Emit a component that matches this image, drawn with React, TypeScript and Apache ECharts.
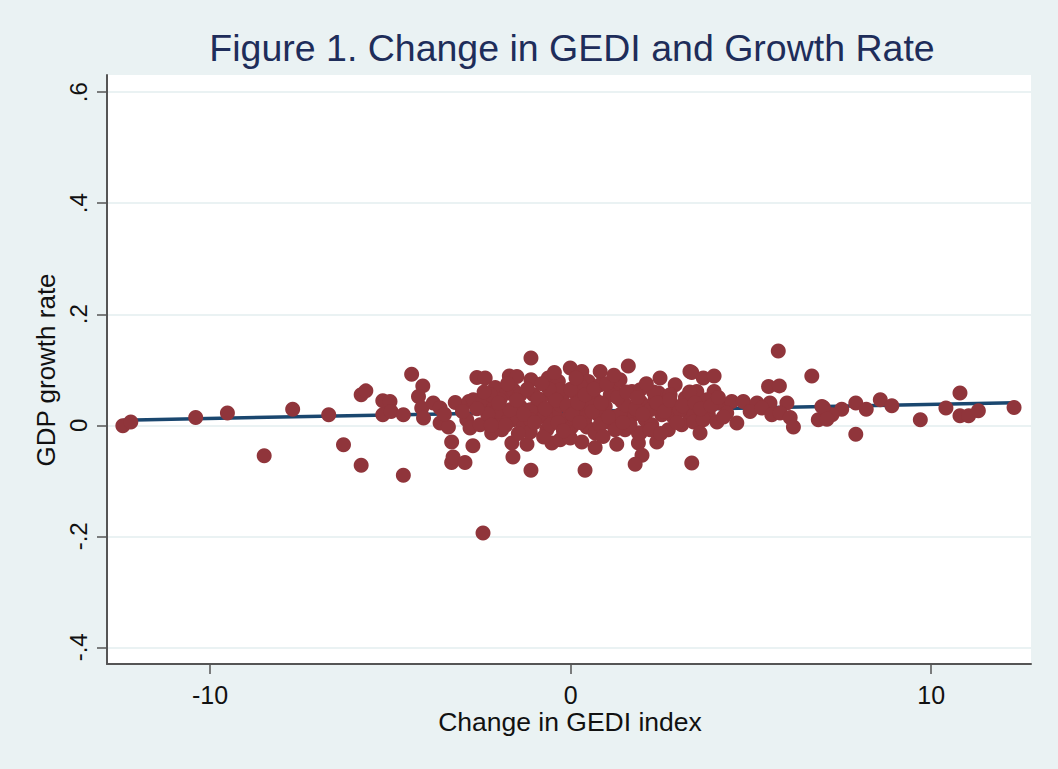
import React, { useEffect, useRef } from "react";
import * as echarts from "echarts";

// Change in GEDI index (x) for each country-period observation
const gediChange: number[] = [
  -12.42, -12.2, -10.4, -9.52, -8.5, -7.71, -6.71, -6.3, -5.81, -5.81,
  -5.68, -5.21, -5.01, -5.21, -4.98, -4.64, -4.64, -4.41, -4.1, -4.22,
  -4.13, -4.08, -3.81, -3.62, -3.62, -3.39, -3.3, -3.3, -3.26, -2.93,
  -2.71, -3.2, -2.88, -2.79, -2.51, -2.82, -2.7, -2.43, -2.6, -2.37,
  -2.09, -2.19, -1.91, -1.63, -1.6, -1.21, -1.1, -1.1, -1.1, -1.7,
  -1.49, -1.77, -1.59, -2.14, -1.96, -1.4, -1.59, -1.31, -1.03, -0.94,
  -0.85, -0.62, -0.57, -0.48, -0.66, -0.52, -0.75, -1.87, -2.05, -2.43,
  -0.01, 0.31, 0.82, 1.6, 2.48, 3.31, 2.9, -0.34, 0.49, 1.19,
  1.7, 2.44, -0.24, 0.12, 0.68, 0.96, 1.42, 1.93, 2.16, 2.62,
  2.9, 3.18, -0.43, -0.06, 0.31, 0.77, 1.23, 1.74, 2.07, 2.53,
  2.85, 3.27, -0.24, 0.03, 0.45, 0.96, 1.51, 1.93, 2.25, 2.71,
  3.08, -0.29, 0.31, 0.68, 1.28, 1.88, 2.39, 1.98, 0.4, 1.79,
  3.36, 0.68, 1.88, 5.76, 6.69, 3.36, 3.68, 3.98, 5.49, 5.79,
  3.5, 3.98, 3.78, 4.15, 4.47, 4.79, 5.17, 5.53, 6.0, 4.98,
  5.3, 5.58, 5.81, 6.09, 6.18, 6.97, 6.87, 3.41, 3.82, 4.33,
  4.61, 3.41, 3.68, 4.06, 3.59, 4.24, 8.59, 8.91, 9.7, 10.41,
  10.8, 10.8, 11.04, 11.31, 12.3, 7.91, 7.91, 8.2, 7.52, 7.25,
  7.01, 7.11,
  -1.4, -1.12, -0.29, 0.54, 1.1, 1.37, 2.21, -0.29, 0.54, -0.85,
  -1.12, -0.71, -0.15, 0.82, 1.23, 1.51, 2.34, 2.76, 3.04, -1.96,
  -2.23, -1.68, 0.12, 0.4, 1.65, 2.21, -1.12, -0.01, -0.57, 0.82,
  1.37, 1.93, 0.26,
  -2.3, -2.0, -1.8, -1.5, -1.3, -1.2, -1.0, -0.9, -0.7, -0.6,
  -0.4, -0.35, -0.1, 0.0, 0.05, 0.2, 0.25, 0.4, 0.6, 0.65,
  0.85, 1.0, 1.05, 1.3, 1.45, 1.55, 1.8, 1.85, 2.0, 2.3,
  2.4, 2.6, 2.75, 2.95, 3.1, 3.3, 3.45, 3.6, 3.9, 4.1,
  -2.6, -2.4, -3.0, -3.5, -2.2, -1.45, -0.2, 0.9, 2.5, -1.75,
  -0.8, 0.15, 2.1, 1.2, -0.45,
];

// GDP growth rate (y) for the same observations
const gdpGrowth: number[] = [
  -0.001, 0.006, 0.014, 0.022, -0.055, 0.029, 0.019, -0.035, -0.072, 0.055,
  0.062, 0.044, 0.043, 0.019, 0.025, 0.019, -0.09, 0.092, 0.071, 0.052,
  0.031, 0.013, 0.04, 0.031, 0.004, -0.003, -0.03, -0.067, -0.057, -0.067,
  -0.037, 0.041, 0.01, -0.005, 0.001, 0.043, 0.046, 0.043, 0.086, 0.085,
  0.068, -0.014, -0.008, -0.032, -0.057, -0.034, -0.081, 0.121, 0.082, 0.089,
  0.088, 0.058, 0.064, 0.031, 0.015, 0.034, 0.01, -0.003, 0.055, 0.034,
  0.015, 0.085, 0.055, 0.034, -0.008, -0.032, -0.021, 0.01, 0.025, -0.194,
  0.103, 0.097, 0.097, 0.107, 0.085, 0.097, 0.073, 0.079, 0.079, 0.067,
  0.061, 0.058, 0.049, 0.058, 0.046, 0.034, 0.043, 0.043, 0.034, 0.04,
  0.034, 0.049, 0.022, 0.015, 0.025, 0.019, 0.015, 0.019, 0.01, 0.019,
  0.015, 0.022, 0.001, -0.003, -0.003, 0.006, -0.008, -0.014, 0.001, -0.008,
  0.001, -0.026, -0.03, -0.04, -0.034, -0.032, -0.03, -0.054, -0.081, -0.07,
  -0.068, -0.014, -0.014, 0.134, 0.089, 0.095, 0.085, 0.089, 0.07, 0.071,
  0.061, 0.061, 0.046, 0.04, 0.043, 0.043, 0.04, 0.04, 0.04, 0.025,
  0.031, 0.019, 0.022, 0.014, -0.003, 0.034, 0.01, 0.025, 0.019, 0.022,
  0.004, 0.006, 0.01, 0.006, -0.014, 0.015, 0.046, 0.035, 0.01, 0.031,
  0.058, 0.017, 0.017, 0.026, 0.032, -0.016, 0.04, 0.029, 0.029, 0.019,
  0.032, 0.011,
  0.055, 0.028, 0.037, 0.037, 0.055, 0.019, 0.028, 0.064, 0.06, 0.046,
  0.01, 0.019, -0.008, 0.001, -0.008, 0.037, 0.046, 0.055, 0.028, 0.046,
  0.055, 0.028, 0.037, 0.013, 0.001, -0.008, -0.012, -0.023, 0.001, 0.073,
  0.082, 0.064, 0.073,
  0.02, 0.04, 0.0, 0.045, 0.02, 0.065, 0.005, 0.048, 0.03, 0.065,
  0.045, 0.005, 0.035, 0.065, 0.02, 0.04, 0.005, 0.055, 0.025, 0.065,
  0.04, 0.075, 0.015, 0.05, 0.005, 0.06, 0.03, 0.05, 0.02, 0.06,
  0.04, 0.025, 0.045, 0.005, 0.035, 0.06, 0.04, 0.03, 0.035, 0.05,
  0.03, 0.06, 0.025, 0.02, 0.0, -0.015, -0.01, -0.02, -0.015, 0.075,
  0.075, 0.085, 0.075, 0.09, 0.095,
];

// Linear fit line end points
const fitX: number[] = [-12.42, 12.3];
const fitY: number[] = [0.0093, 0.0404];

const yTicks: number[] = [-0.4, -0.2, 0, 0.2, 0.4, 0.6];
const yTickLabels: string[] = ["-.4", "-.2", "0", ".2", ".4", ".6"];
const xTicks: number[] = [-10, 0, 10];
const xTickLabels: string[] = ["-10", "0", "10"];

const FONT = "'Liberation Sans', Arial, sans-serif";

export default function App() {
  const ref = useRef<HTMLDivElement | null>(null);

  useEffect(() => {
    document.body.style.margin = "0";
    if (!ref.current) return;
    const chart = echarts.init(ref.current, null, { renderer: "svg" });

    const points = gediChange.map((x, i) => [x, gdpGrowth[i]]);
    const fit = fitX.map((x, i) => [x, fitY[i]]);

    const yLabelFor = (v: number) => {
      const idx = yTicks.findIndex((t) => Math.abs(t - v) < 1e-9);
      return idx >= 0 ? yTickLabels[idx] : "";
    };
    const xLabelFor = (v: number) => {
      const idx = xTicks.findIndex((t) => Math.abs(t - v) < 1e-9);
      return idx >= 0 ? xTickLabels[idx] : "";
    };

    chart.setOption({
      animation: false,
      backgroundColor: "#EAF2F3",
      textStyle: { fontFamily: FONT },
      grid: {
        left: 107,
        right: 27,
        top: 75,
        bottom: 105,
        show: true,
        backgroundColor: "#ffffff",
        borderWidth: 0,
        containLabel: false,
      },
      xAxis: {
        type: "value",
        min: -12.86,
        max: 12.77,
        axisLine: { show: true, onZero: false, lineStyle: { color: "#555555", width: 2 } },
        axisTick: { show: true, length: 10, customValues: xTicks, lineStyle: { color: "#555555", width: 1.5 } },
        axisLabel: {
          customValues: xTicks,
          formatter: (v: number) => xLabelFor(v),
          fontSize: 25,
          color: "#111111",
          margin: 18,
          fontFamily: FONT,
        },
        splitLine: { show: false },
      },
      yAxis: {
        type: "value",
        min: -0.43,
        max: 0.631,
        axisLine: { show: true, onZero: false, lineStyle: { color: "#555555", width: 2 } },
        axisTick: { show: true, length: 10, customValues: yTicks, lineStyle: { color: "#555555", width: 1.5 } },
        axisLabel: {
          customValues: yTicks,
          formatter: (v: number) => yLabelFor(v),
          rotate: 90,
          fontSize: 24,
          color: "#111111",
          margin: 17,
          fontFamily: FONT,
        },
        splitLine: { show: true, lineStyle: { color: "#EAF2F3", width: 2 } },
      },
      graphic: [
        {
          type: "text",
          x: 572,
          y: 48,
          style: {
            text: "Figure 1. Change in GEDI and Growth Rate",
            fontSize: 37.5,
            fontFamily: FONT,
            fill: "#1E2D5A",
            textAlign: "center",
            textVerticalAlign: "middle",
          },
        },
        {
          type: "text",
          x: 46,
          y: 370,
          rotation: Math.PI / 2,
          style: {
            text: "GDP growth rate",
            fontSize: 26,
            fontFamily: FONT,
            fill: "#111111",
            textAlign: "center",
            textVerticalAlign: "middle",
          },
        },
        {
          type: "text",
          x: 570,
          y: 722,
          style: {
            text: "Change in GEDI index",
            fontSize: 26.5,
            fontFamily: FONT,
            fill: "#111111",
            textAlign: "center",
            textVerticalAlign: "middle",
          },
        },
      ],
      series: [
        {
          type: "line",
          data: fit,
          symbol: "none",
          z: 2,
          lineStyle: { color: "#1A476F", width: 3.5 },
          silent: true,
        },
        {
          type: "scatter",
          data: points,
          symbol: "circle",
          symbolSize: 15,
          z: 3,
          itemStyle: { color: "#90353B", opacity: 1 },
        },
      ],
    });

    return () => {
      chart.dispose();
    };
  }, []);

  return <div ref={ref} style={{ width: 1058, height: 769 }} />;
}
